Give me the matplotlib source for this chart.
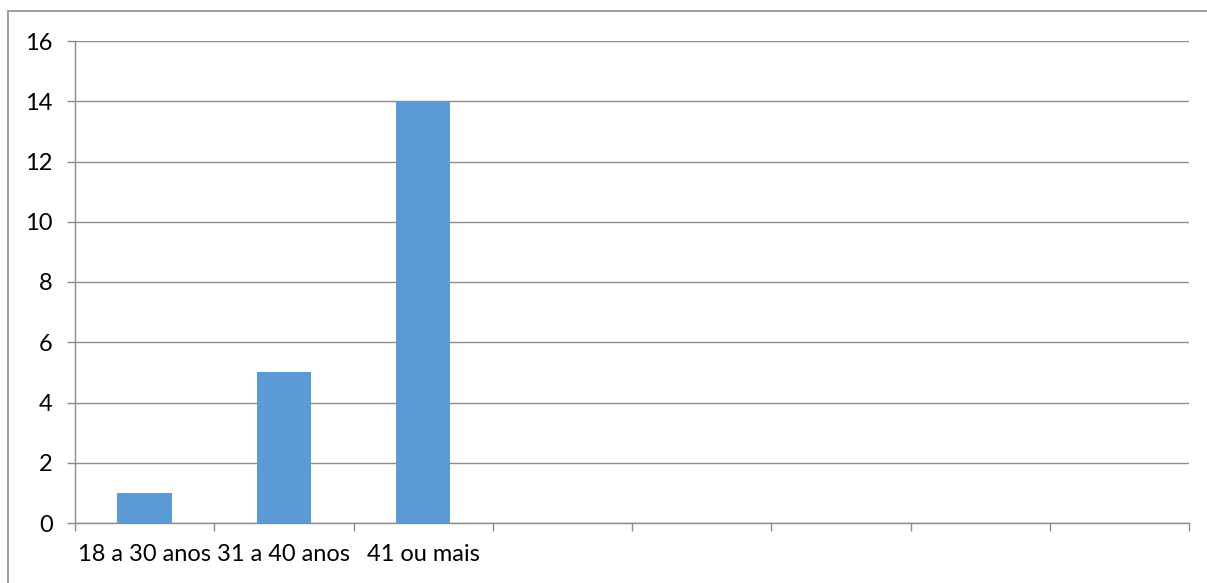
import numpy as np
import matplotlib.pyplot as plt
from matplotlib.patches import Rectangle

# data
categories = ["18 a 30 anos", "31 a 40 anos", "41 ou mais"]
values = [1, 5, 14]
n_slots = 8           # empty category slots on the axis
y_ticks = [0, 2, 4, 6, 8, 10, 12, 14, 16]

plt.rcParams['font.family'] = ['Lato', 'DejaVu Sans']

fig = plt.figure(figsize=(12.07, 5.83), dpi=100)
ax = fig.add_axes([75/1207, 1 - 523/583, (1189 - 75)/1207, (523 - 41)/583])

# outer chart border
fig.patches.append(Rectangle((8/1207, -0.05), 1.1, 1 - 11/583 + 0.05,
                             transform=fig.transFigure, fill=False,
                             edgecolor='#8c8c8c', linewidth=1.2))

x = np.arange(len(categories))
ax.bar(x, values, width=0.39, color='#5b9bd5', zorder=3)

ax.set_xlim(-0.5, n_slots - 0.5)
ax.set_ylim(0, 16)
ax.set_yticks(y_ticks)
ax.yaxis.grid(True, color='#8c8c8c', linewidth=1.0, zorder=0)

labels = categories + [""] * (n_slots - len(categories))
ax.set_xticks(np.arange(n_slots))
ax.set_xticklabels(labels)
ax.set_xticks(np.arange(n_slots + 1) - 0.5, minor=True)
ax.tick_params(axis='x', which='major', length=0, pad=15, labelsize=17)
ax.tick_params(axis='x', which='minor', length=6, color='#8c8c8c', width=1.0)
ax.tick_params(axis='y', length=6, color='#8c8c8c', width=1.0, pad=10, labelsize=17)

for s in ['top', 'right']:
    ax.spines[s].set_visible(False)
for s in ['left', 'bottom']:
    ax.spines[s].set_color('#8c8c8c')
    ax.spines[s].set_linewidth(1.0)

fig.savefig('out.png', dpi=100)
